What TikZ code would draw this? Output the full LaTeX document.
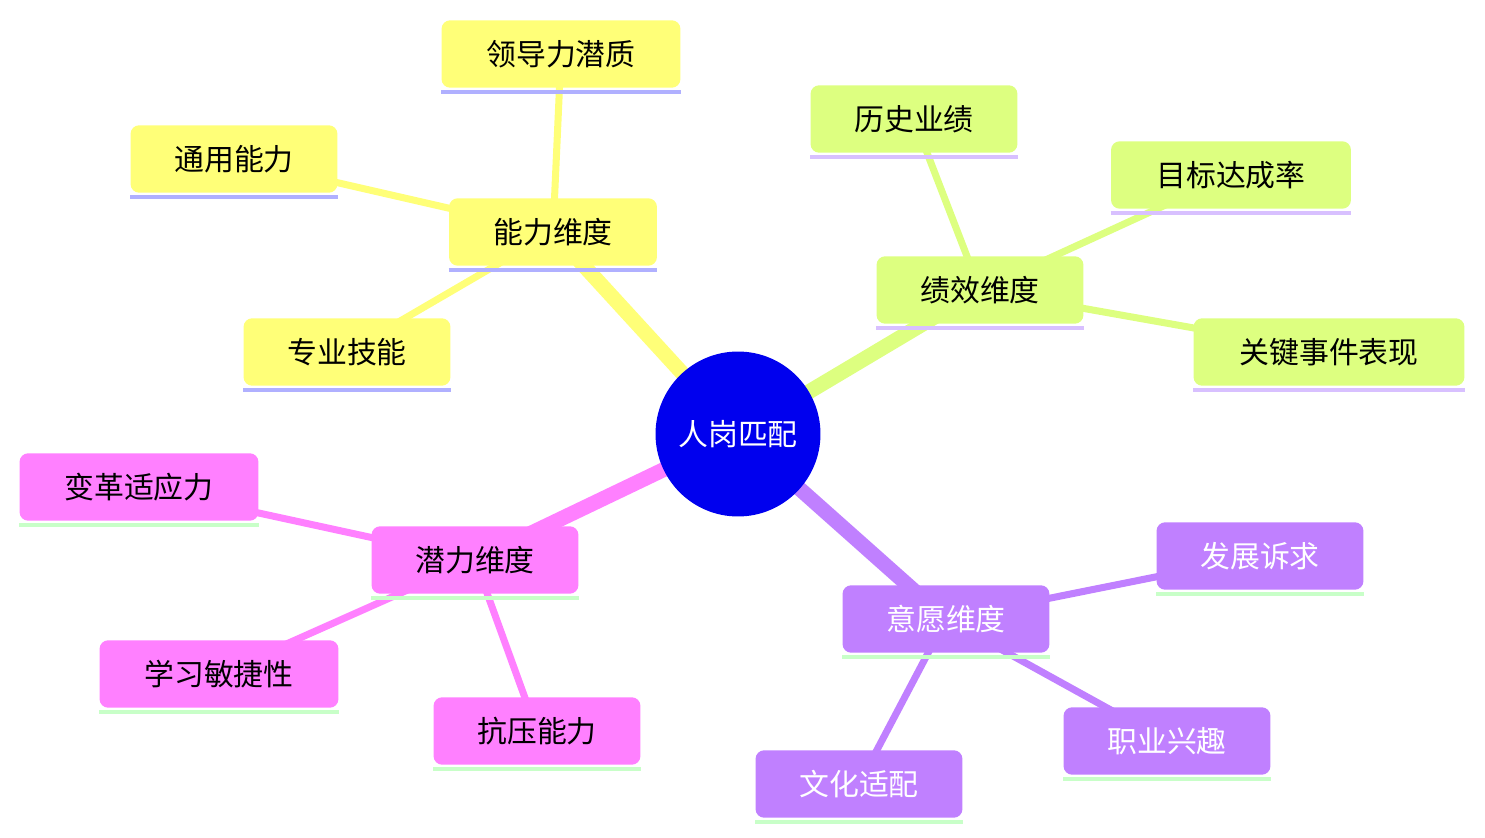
\documentclass[tikz,border=0pt]{standalone}
\usepackage{fontspec}
\setmainfont{Noto Sans CJK SC}
\usetikzlibrary{backgrounds}

\definecolor{rootblue}{HTML}{0000EE}
\definecolor{abil}{HTML}{FFFF78}
\definecolor{perf}{HTML}{DDFF80}
\definecolor{pote}{HTML}{FF80FF}
\definecolor{will}{HTML}{C080FF}
\definecolor{lineA}{HTML}{B0B0FF}
\definecolor{lineB}{HTML}{D8C0FF}
\definecolor{lineC}{HTML}{C8FFC8}

\tikzset{
  box/.style={fill=#1, rounded corners=5pt, minimum height=1.35cm,
    inner sep=0pt, font=\fontsize{17}{20}\selectfont},
  under/.style={line width=2.3pt, #1},
  trunk/.style={line width=8.5pt, #1},
  twig/.style={line width=4pt, #1}
}
\newcommand{\mmbox}[6]{%
  \node[box=#4, minimum width=#5, text=#6] (#1) at #2 {#3};
  \draw[under=#6] ([yshift=1pt]#1.south west) -- ([yshift=1pt]#1.south east);}

\begin{document}
\begin{tikzpicture}[x=0.02cm, y=-0.02cm]
  \useasboundingbox (0,0) rectangle (1485,838);

  \node[circle, fill=rootblue, minimum size=3.3cm, text=white,
    font=\fontsize{17}{20}\selectfont] (root) at (738,434) {人岗匹配};

  % ability
  \node[box=abil, minimum width=4.16cm] (abl) at (553,232) {能力维度};
  \node[box=abil, minimum width=4.78cm] (lead) at (561,54) {领导力潜质};
  \node[box=abil, minimum width=4.14cm] (gen) at (234,159) {通用能力};
  \node[box=abil, minimum width=4.14cm] (pro) at (347,352) {专业技能};
  % performance
  \node[box=perf, minimum width=4.14cm] (perfm) at (980,290) {绩效维度};
  \node[box=perf, minimum width=4.14cm] (hist) at (914,119) {历史业绩};
  \node[box=perf, minimum width=4.8cm] (goal) at (1231,175) {目标达成率};
  \node[box=perf, minimum width=5.42cm] (key) at (1329,352) {关键事件表现};
  % potential
  \node[box=pote, minimum width=4.14cm] (pot) at (475,560) {潜力维度};
  \node[box=pote, minimum width=4.78cm] (chg) at (139,487) {变革适应力};
  \node[box=pote, minimum width=4.78cm] (learn) at (219,674) {学习敏捷性};
  \node[box=pote, minimum width=4.14cm] (stress) at (537,731) {抗压能力};
  % willingness
  \node[box=will, minimum width=4.14cm, text=white] (wil) at (946,619) {意愿维度};
  \node[box=will, minimum width=4.14cm, text=white] (dev) at (1260,556) {发展诉求};
  \node[box=will, minimum width=4.14cm, text=white] (car) at (1167,741) {职业兴趣};
  \node[box=will, minimum width=4.14cm, text=white] (cul) at (859,784) {文化适配};

  \foreach \n in {abl,lead,gen,pro}
    \draw[under=lineA] ([yshift=-2pt]\n.south west) -- ([yshift=-2pt]\n.south east);
  \foreach \n in {perfm,hist,goal,key}
    \draw[under=lineB] ([yshift=-2pt]\n.south west) -- ([yshift=-2pt]\n.south east);
  \foreach \n in {pot,chg,learn,stress,wil,dev,car,cul}
    \draw[under=lineC] ([yshift=-2pt]\n.south west) -- ([yshift=-2pt]\n.south east);

  \begin{scope}[on background layer]
    \draw[trunk=abil] (root.center) -- (abl.center);
    \draw[trunk=perf] (root.center) -- (perfm.center);
    \draw[trunk=pote] (root.center) -- (pot.center);
    \draw[trunk=will] (root.center) -- (wil.center);
    \foreach \n in {lead,gen,pro} \draw[twig=abil] (abl.center) -- (\n.center);
    \foreach \n in {hist,goal,key} \draw[twig=perf] (perfm.center) -- (\n.center);
    \foreach \n in {chg,learn,stress} \draw[twig=pote] (pot.center) -- (\n.center);
    \foreach \n in {dev,car,cul} \draw[twig=will] (wil.center) -- (\n.center);
  \end{scope}
\end{tikzpicture}
\end{document}
